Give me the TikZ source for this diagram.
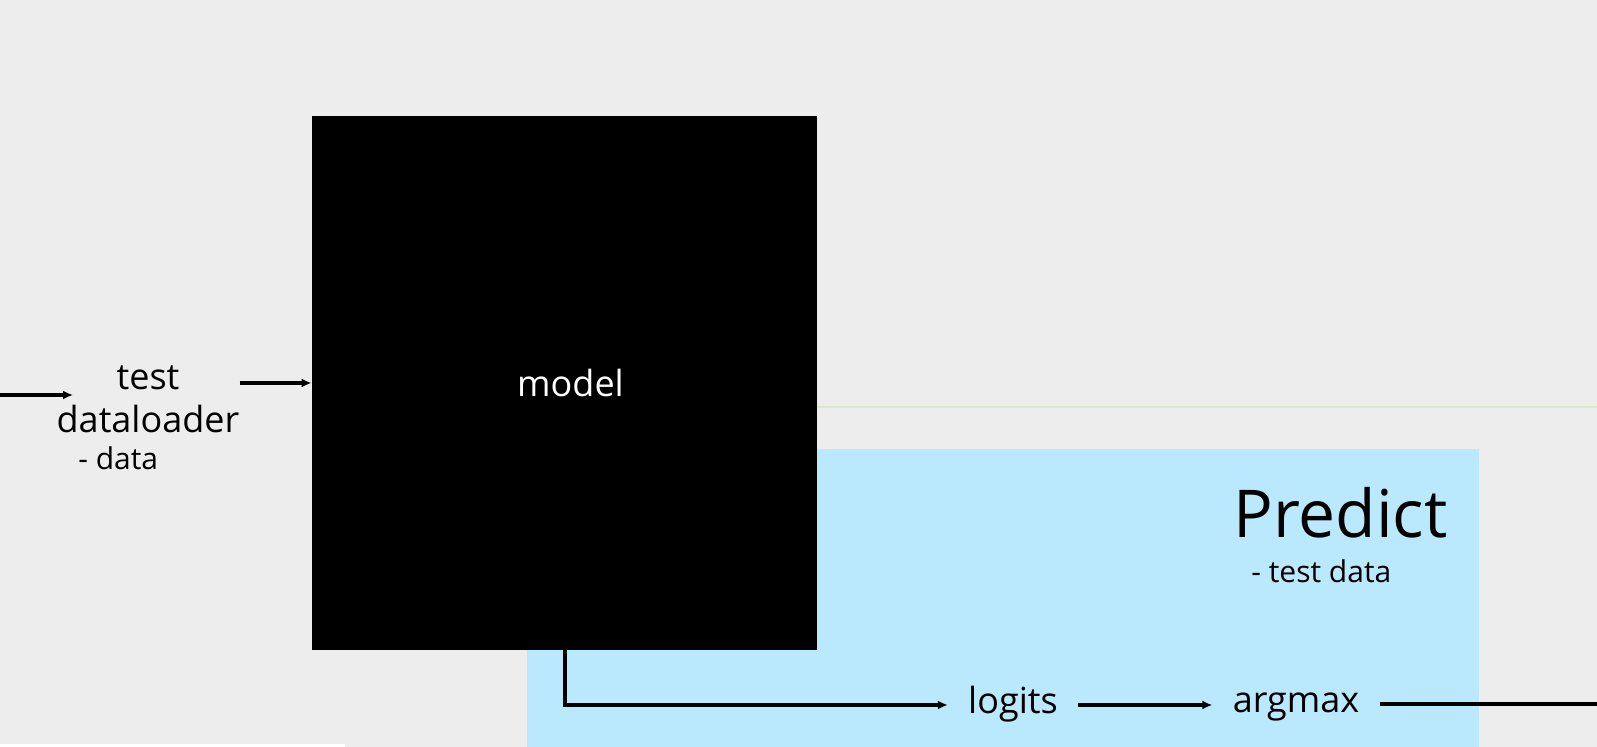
\documentclass[tikz,border=0pt]{standalone}
\usepackage{fontspec}
\setmainfont{Open Sans}
\usetikzlibrary{positioning,arrows.meta}
\definecolor{bggray}{RGB}{237,237,237}
\definecolor{predblue}{RGB}{186,232,253}
\definecolor{sepgreen}{RGB}{216,234,204}
\tikzstyle{txt}=[inner sep=0pt, text=black, font=\fontsize{18}{21.5}\selectfont]
\tikzstyle{subtxt}=[inner sep=0pt, text=black, font=\fontsize{15}{18}\selectfont]
\tikzstyle{rowtxt}=[txt, inner xsep=10pt, text height=13pt, text depth=4pt]
\tikzstyle{flow}=[->, line width=2pt]
\tikzset{>={Latex[length=5pt,width=4.5pt]}}

\begin{document}
\begin{tikzpicture}[x=0.5pt,y=-0.5pt]
    \useasboundingbox (0,0) rectangle (1597,747);
    \fill[bggray] (0,0) rectangle (1597,747);
    \fill[white] (0,744) rectangle (345,747);

    % predict area
    \node (predbox) [fill=predblue, inner sep=0pt, minimum width=476pt, minimum height=149pt, anchor=north west] at (527,449) {};
    \draw[sepgreen, line width=1pt] (810,407) -- (1597,407);

    \node (model) [fill=black, inner sep=0pt, minimum width=252.5pt, minimum height=267pt] at (564.5,383) {};
    \node (modellabel) [txt, text=white] at ([xshift=3pt]model.center) {model};

    \node (predict) [txt, font=\fontsize{33}{40}\selectfont, anchor=base east] at (1448,538) {Predict};
    \node (predictdesc) [subtxt, anchor=base west] at (1251,583) {- test data};

    % input side
    \node (test) [txt, anchor=base] at (148,390) {test};
    \node (loader) [txt, anchor=base] at (148,433) {dataloader};
    \node (loaderdesc) [subtxt, anchor=base west] at (78,470) {- data};

    \coordinate (inlet) at (0,395);
    \coordinate (inend) at (73,395);
    \draw[flow] (inlet) -- (inend);
    \draw[flow] (loader.east |- model.west) -- (model.west);

    % output row
    \node (logits) [rowtxt, anchor=base] at (1013,714) {logits};
    \node (argmax) [rowtxt, anchor=base] at (1296,713) {argmax};
    \coordinate (outlet) at (1597,704);

    \draw[flow] (model.south) |- (logits.west);
    \draw[flow] (logits.east) -- (argmax.west |- logits.east);
    \draw[line width=2pt] (argmax.east) -- (outlet);

\end{tikzpicture}
\end{document}
